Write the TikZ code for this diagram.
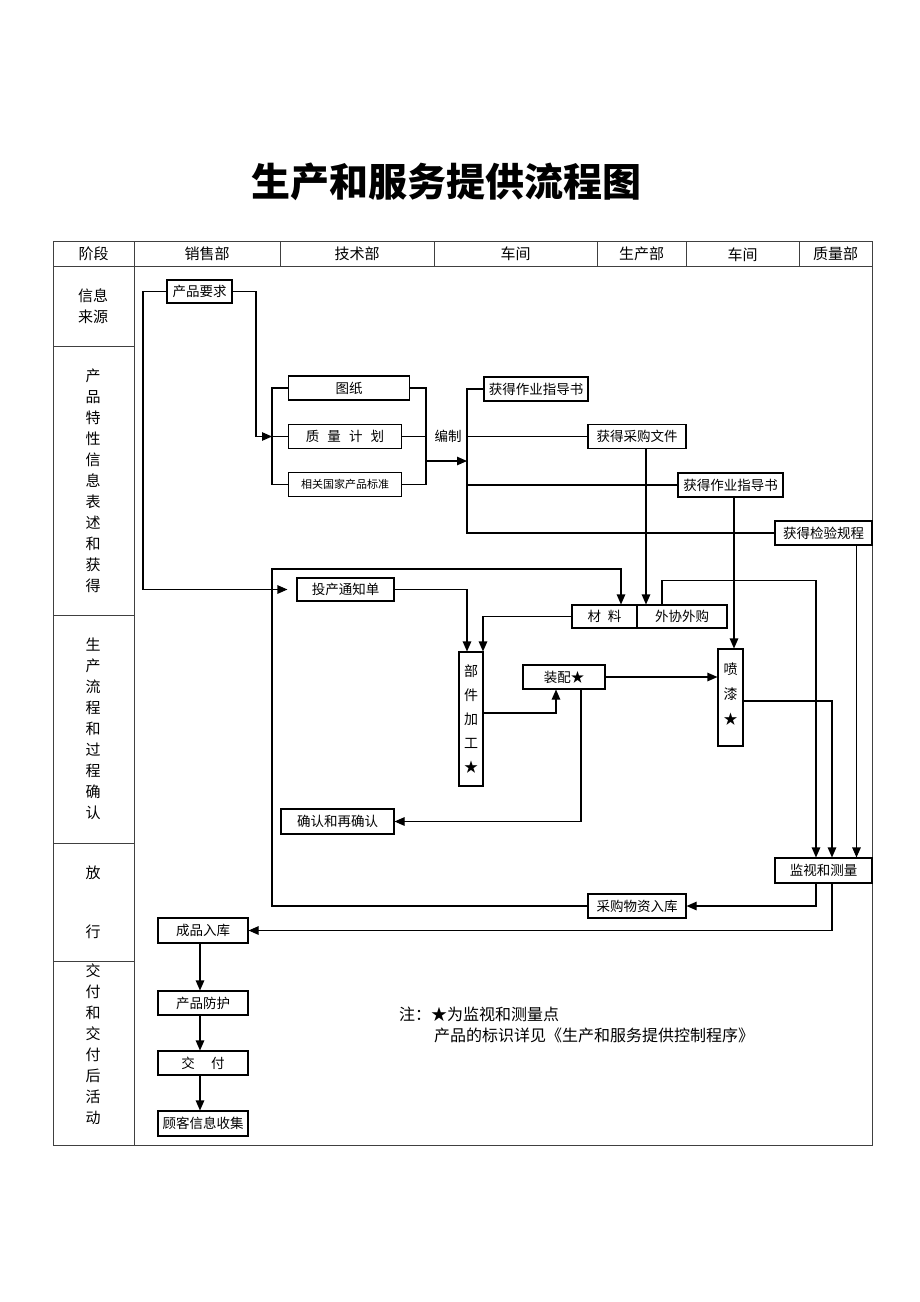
\documentclass[tikz,border=0pt]{standalone}
\usepackage{fontspec}
\setmainfont{Noto Sans CJK SC}
\usetikzlibrary{arrows.meta}
\begin{document}
\begin{tikzpicture}[x=1pt,y=-1pt,
  tbl/.style={line width=0.8pt, draw=black!75},
  box/.style={draw, line width=1.1pt, inner sep=0pt, font=\fontsize{13.5}{16}\selectfont},
  bx/.style 2 args={box, minimum width=#1, minimum height=#2},
  ln/.style={line width=1.1pt},
  arr/.style={line width=1.1pt, -{Triangle[length=10pt,width=8.5pt]}},
  hdr/.style={font=\fontsize{15}{18}\selectfont, inner sep=0pt},
  stage/.style={font=\fontsize{15}{21}\selectfont, align=center, inner sep=0pt},
  lbl/.style={font=\fontsize{13.5}{16}\selectfont, inner sep=0pt},
  note/.style={font=\fontsize{16}{18}\selectfont, inner sep=0pt, anchor=west},
  titlestyle/.style={font=\fontsize{39}{44}\selectfont\bfseries, inner sep=0pt}
]
\useasboundingbox (0,0) rectangle (920,1302);
\fill[white] (0,0) rectangle (920,1302);

% title
\node[titlestyle] (title) at (446,182) {生产和服务提供流程图};

% table
\draw[tbl] (53,241) rectangle (872,1145);
\draw[tbl] (53,266) -- (872,266);
\draw[tbl] (134,241) -- (134,1145);
\foreach \x in {280,434,597,686,799} \draw[tbl] (\x,241) -- (\x,266);
\foreach \y in {346,615,843,961} \draw[tbl] (53,\y) -- (134,\y);

% header
\node[hdr] (h0) at (93.5,253.5) {阶段};
\node[hdr] (h1) at (207,253.5) {销售部};
\node[hdr] (h2) at (357,253.5) {技术部};
\node[hdr] (h3) at (515.5,253.5) {车间};
\node[hdr] (h4) at (641.5,253.5) {生产部};
\node[hdr] (h5) at (742.5,254.5) {车间};
\node[hdr] (h6) at (835.5,253.5) {质量部};

% stages
\node[stage] (s1) at (93,306.5) {信息\\来源};
\node[stage] (s2) at (93,481) {产\\品\\特\\性\\信\\息\\表\\述\\和\\获\\得};
\node[stage] (s3) at (93,729) {生\\产\\流\\程\\和\\过\\程\\确\\认};
\node[stage] (s4a) at (93,873) {放};
\node[stage] (s4b) at (93,932) {行};
\node[stage] (s5) at (93,1044) {交\\付\\和\\交\\付\\后\\活\\动};

% boxes
\node[bx={65pt}{23pt}] (req) at (199.5,291.5) {产品要求};
\node[bx={121pt}{24pt}] (tz) at (349,388) {图纸};
\node[bx={113pt}{24pt}] (zljh) at (345,436.5) {质\hspace{0.6em}量\hspace{0.6em}计\hspace{0.6em}划};
\node[bx={113pt}{24pt}, font=\fontsize{11}{13}\selectfont] (bz) at (345,484.5) {相关国家产品标准};
\node[lbl] (bzz) at (448,436) {编制};
\node[bx={104pt}{24pt}] (zy1) at (536,389) {获得作业指导书};
\node[bx={98pt}{24pt}] (cg) at (637,436.5) {获得采购文件};
\node[bx={105pt}{24pt}] (zy2) at (730.5,485) {获得作业指导书};
\node[bx={97pt}{24pt}] (jy) at (823.5,533) {获得检验规程};
\node[bx={97pt}{23pt}] (tc) at (345.5,589.5) {投产通知单};
\node[bx={65pt}{23pt}] (cl) at (604.5,616.5) {材\hspace{0.5em}料};
\node[bx={90pt}{23pt}] (ww) at (682,616.5) {外协外购};
\node[bx={24pt}{134pt}, align=center, font=\fontsize{14}{24}\selectfont] (bj) at (471,719) {部\\件\\加\\工\\★};
\node[bx={82pt}{24pt}] (zp) at (564,677) {装配★};
\node[bx={25pt}{97pt}, align=center, font=\fontsize{14}{25}\selectfont] (pq) at (730.5,697.5) {喷\\漆\\★\\[-17pt]};
\node[bx={113pt}{25pt}] (qr) at (337.5,821.5) {确认和再确认};
\node[bx={97pt}{25pt}] (jc) at (823.5,870.5) {监视和测量};
\node[bx={98pt}{24pt}] (cgrk) at (637,906) {采购物资入库};
\node[bx={90pt}{25pt}] (cprk) at (203,930.5) {成品入库};
\node[bx={90pt}{24pt}] (fh) at (203,1003) {产品防护};
\node[bx={90pt}{24pt}] (jf) at (203,1063) {交\hspace{1.2em}付};
\node[bx={90pt}{25pt}] (gk) at (203,1123.5) {顾客信息收集};

% note
\node[note] (n1) at (399,1014) {注：★为监视和测量点};
\node[note] (n2) at (434,1035) {产品的标识详见《生产和服务提供控制程序》};

% bracket coordinates
\coordinate (bl1) at (272,388);
\coordinate (bl2) at (272,436.5);
\coordinate (bl3) at (272,484.5);
\coordinate (br1) at (426,388);
\coordinate (br2) at (426,436.5);
\coordinate (br3) at (426,484.5);
\coordinate (bra) at (426,461);
\coordinate (bc1) at (467,389);
\coordinate (bc2) at (467,436.5);
\coordinate (bc3) at (467,485);
\coordinate (bc4) at (467,533);
\coordinate (bca) at (467,461);

% connectors
\draw[arr, shorten >=9pt] (req.west) -| (143,589.5) -- (tc.west);
\draw[arr] (req.east) -| (256,436.5) -- (bl2);
\draw[ln] (tz.west) -- (bl1) -- (bl3) -- (bz.west);
\draw[ln] (zljh.west) -- (bl2);
\draw[ln] (tz.east) -- (br1) -- (br3) -- (bz.east);
\draw[ln] (zljh.east) -- (br2);
\draw[arr] (bra) -- (bca);
\draw[ln] (zy1.west) -- (bc1) -- (bc4) -- (jy.west);
\draw[ln] (bc2) -- (cg.west);
\draw[ln] (bc3) -- (zy2.west);

\draw[arr] (cgrk.west) -- (272,906) -- (272,569) -| ([xshift=16.5pt]cl.north);
\draw[arr] ([xshift=9pt]cg.south) -- ([xshift=9pt]cg.south |- ww.north);
\draw[arr] ([xshift=-20pt]ww.north) -- ++(0,-24) -| ([xshift=-7.5pt]jc.north);
\draw[arr] ([xshift=3.5pt]zy2.south) -- ([xshift=3.5pt]zy2.south |- pq.north);
\draw[arr] ([xshift=33pt]jy.south) -- ([xshift=33pt]jy.south |- jc.north);
\draw[arr] ([yshift=-3.5pt]pq.east) -| ([xshift=8.5pt]jc.north);
\draw[arr] (tc.east) -| ([xshift=-4pt]bj.north);
\draw[arr] (cl.west) -| ([xshift=12pt]bj.north);
\draw[arr] ([yshift=6pt]bj.east) -| ([xshift=-8pt]zp.south);
\draw[arr] (zp.east) -- (zp.east -| pq.west);
\draw[arr] ([xshift=17pt]zp.south) |- (qr.east);
\draw[arr] ([xshift=-7.5pt]jc.south) |- (cgrk.east);
\draw[arr] ([xshift=8.5pt]jc.south) |- (cprk.east);
\draw[arr] ([xshift=-3pt]cprk.south) -- ([xshift=-3pt]fh.north);
\draw[arr] ([xshift=-3pt]fh.south) -- ([xshift=-3pt]jf.north);
\draw[arr] ([xshift=-3pt]jf.south) -- ([xshift=-3pt]gk.north);
\end{tikzpicture}
\end{document}
